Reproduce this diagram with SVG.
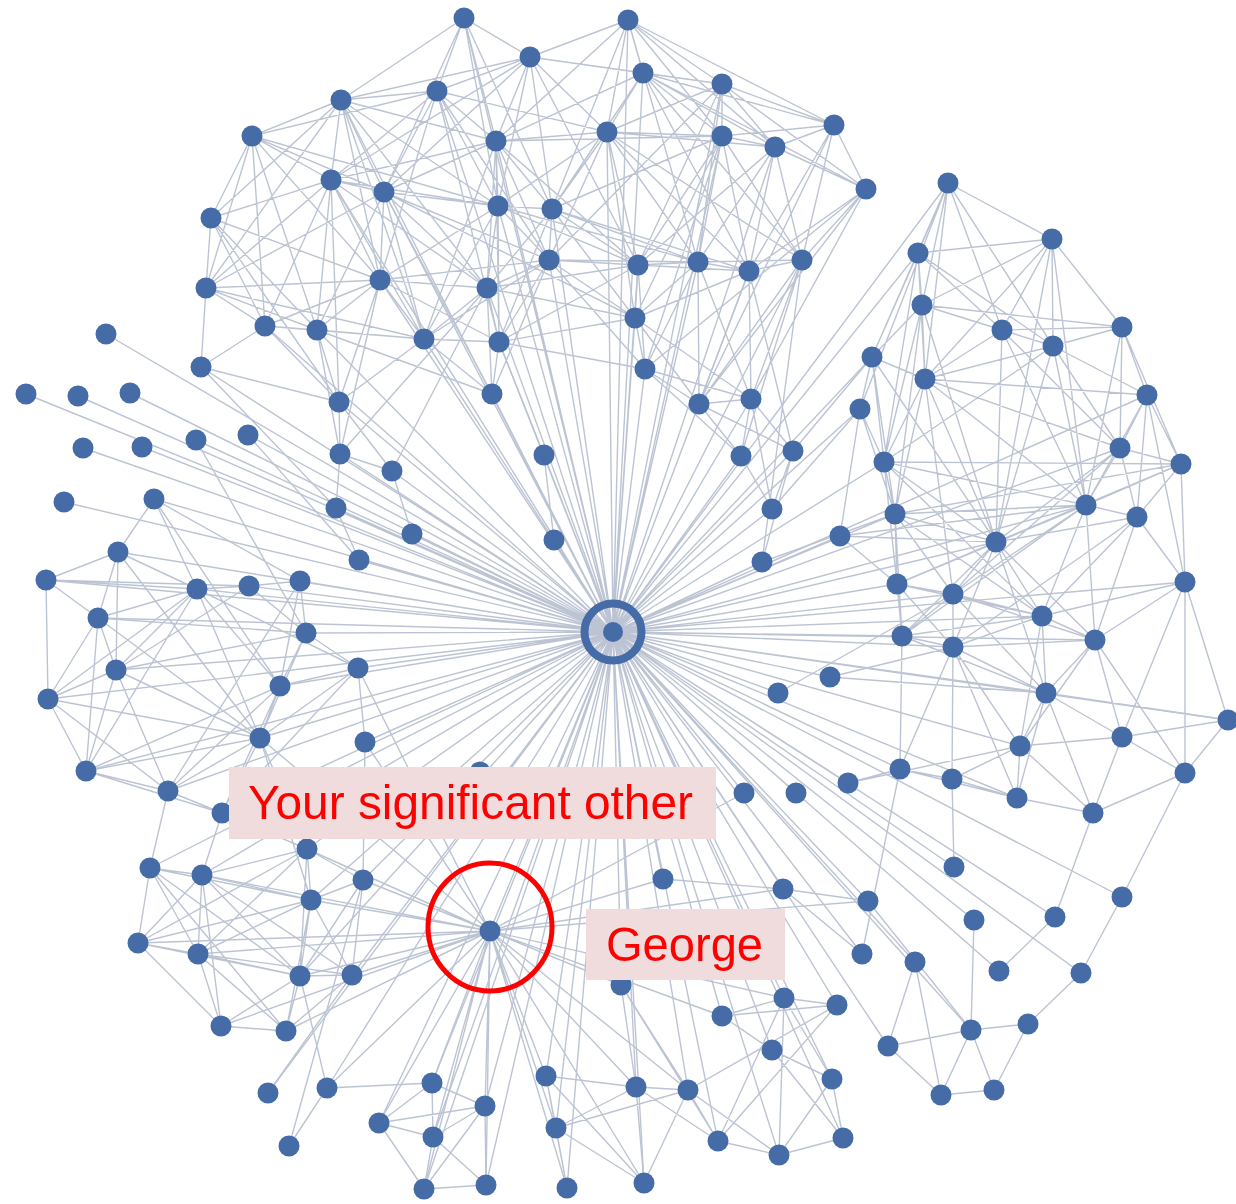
<svg xmlns="http://www.w3.org/2000/svg" width="1236" height="1204" viewBox="0 0 1236 1204">
<style>
  .e{fill:none;stroke:#bcc4d3;stroke-width:1.4;stroke-linejoin:round}
  .n circle{fill:#466ca8}
  .lbl{fill:#f0dcdc}
  .t{font-family:"Liberation Sans",Arial,sans-serif;font-size:49px;fill:#ff0000}
</style>
<rect width="1236" height="1204" fill="#ffffff"/>
<g id="connectors">
  <!-- spokes from the central person -->
  <path class="e" d="M464 18L613 632L628 20M530 57L613 632L643 73M722 84L613 632L341 100M437 91L613 632L496 141M607 132L613 632L722 136M775 147L613 632L331 180M384 192L613 632L498 206M552 209L613 632L549 260M638 265L613 632L698 262M749 271L613 632L802 260M380 280L613 632L487 288M635 318L613 632L265 326M317 330L613 632L424 339M499 342L613 632L645 369M201 367L613 632L106 334M26 394L613 632L78 396M130 393L613 632L339 402M492 394L613 632L699 404M751 399L613 632L83 448M142 447L613 632L196 440M248 435L613 632L340 454M392 471L613 632L544 455M741 456L613 632L793 451M64 502L613 632L154 499M336 508L613 632L412 534M554 540L613 632L772 509M762 562L613 632L359 560M860 409L613 632L884 462M895 514L613 632L840 536M897 584L613 632L902 636M953 647L613 632L830 677M778 693L613 632L848 783M796 793L613 632L744 793M900 769L613 632L1046 693M1042 616L613 632L996 542M1228 720L613 632L1185 582M872 357L613 632L918 253M948 183L613 632L118 552M46 580L613 632L98 618M197 589L613 632L249 586M300 581L613 632L306 633M116 670L613 632L358 668M48 699L613 632L280 686M260 738L613 632L365 742M86 771L613 632L168 791M222 813L613 632L307 849M363 880L613 632L311 900M150 868L613 632L202 875M300 976L613 632L352 975M490 931L613 632L546 1076M556 1128L613 632L567 1188M621 985L613 632L636 1087M688 1090L613 632L644 1183M718 1141L613 632L779 1155M843 1138L613 632L832 1079M772 1050L613 632L722 1016M784 998L613 632L837 1005M663 879L613 632L783 889M868 901L613 632L862 954M915 962L613 632L974 920M999 971L613 632L954 867M1055 917L613 632L1122 897M1081 973L613 632L888 1046M971 1030L613 632L485 1106M432 1083L613 632L433 1137M486 1185L613 632L424 1189M327 1088L613 632L268 1093M379 1123L613 632L1147 395M1120 448L613 632L1086 505M953 594L613 632L1095 640M1020 746L613 632L1017 798"/>
  <!-- upper community -->
  <path class="e" d="M341 100L464 18L437 91M496 141L464 18L498 206M384 192L464 18L552 209M464 18L530 57M530 57L628 20L643 73M722 84L628 20L607 132M722 136L628 20L775 147M552 209L628 20L698 262M496 141L628 20L834 125M341 100L530 57L437 91M643 73L530 57L607 132M722 84L530 57L496 141M498 206L530 57L638 265M384 192L530 57L331 180M722 84L643 73L607 132M722 136L643 73L775 147M496 141L643 73L552 209M749 271L643 73L802 260M834 125L643 73L866 189M834 125L722 84L722 136M775 147L722 84L607 132M638 265L722 84L698 262M866 189L722 84L549 260M437 91L341 100L252 136M331 180L341 100L384 192M496 141L341 100L211 218M206 288L341 100L380 280M498 206L341 100L487 288M341 100L424 339M496 141L437 91L331 180M384 192L437 91L252 136M607 132L437 91L498 206M549 260L437 91L380 280M437 91L499 342M331 180L252 136L384 192M211 218L252 136L206 288M265 326L252 136L317 330M498 206L252 136L380 280M607 132L496 141L498 206M552 209L496 141L384 192M331 180L496 141L549 260M487 288L496 141L638 265M722 136L496 141L424 339M496 141L499 342M722 136L607 132L552 209M498 206L607 132L638 265M698 262L607 132L749 271M549 260L607 132L635 318M775 147L607 132L802 260M775 147L722 136L834 125M698 262L722 136L749 271M802 260L722 136L552 209M638 265L722 136L645 369M722 136L635 318M834 125L775 147L866 189M802 260L775 147L749 271M698 262L775 147L638 265M866 189L834 125L802 260M749 271L834 125L699 404M802 260L866 189L749 271M751 399L866 189L699 404M866 189L645 369M384 192L331 180L211 218M206 288L331 180L380 280M265 326L331 180L317 330M498 206L331 180L487 288M424 339L331 180L339 402M498 206L384 192L380 280M487 288L384 192L424 339M317 330L384 192L549 260M635 318L384 192L492 394M384 192L206 288M552 209L498 206L549 260M487 288L498 206L380 280M638 265L498 206L499 342M424 339L498 206L698 262M549 260L552 209L638 265M698 262L552 209L487 288M499 342L552 209L635 318M552 209L749 271M206 288L211 218L265 326M380 280L211 218L317 330M211 218L339 402M638 265L549 260L698 262M487 288L549 260L380 280M499 342L549 260L635 318M645 369L549 260L424 339M549 260L492 394M698 262L638 265L749 271M635 318L638 265L645 369M499 342L638 265L487 288M749 271L698 262L802 260M635 318L698 262L645 369M699 404L698 262L751 399M802 260L749 271L699 404M751 399L749 271L635 318M749 271L793 451M751 399L802 260L699 404M802 260L741 456M265 326L206 288L317 330M380 280L206 288L201 367M206 288L424 339M487 288L380 280L424 339M317 330L380 280L265 326M339 402L380 280L499 342M380 280L340 454M499 342L487 288L424 339M635 318L487 288L492 394M340 454L487 288L392 471M645 369L635 318L699 404M499 342L635 318L751 399M317 330L265 326L201 367M339 402L265 326L424 339M424 339L317 330L339 402M340 454L317 330L492 394M499 342L424 339L492 394M424 339L339 402M492 394L499 342L645 369M499 342L544 455M699 404L645 369L751 399M645 369L741 456M339 402L201 367L336 508M340 454L339 402L392 471M751 399L699 404L741 456M699 404L793 451M741 456L751 399L793 451M751 399L772 509M772 509L793 451L762 562M741 456L772 509M336 508L359 560M392 471L412 534M340 454L392 471M544 455L554 540M336 508L340 454M793 451L872 357M772 509L860 409M762 562L895 514M802 260L762 562"/>
  <!-- right community -->
  <path class="e" d="M1052 239L948 183L918 253M922 305L948 183L872 357M1002 330L948 183L1053 346M925 379L948 183L860 409M918 253L1052 239L922 305M1002 330L1052 239L1053 346M1122 327L1052 239L925 379M1086 505L1052 239L996 542M922 305L918 253L872 357M925 379L918 253L1002 330M884 462L918 253L1053 346M925 379L922 305L872 357M1002 330L922 305L1053 346M1122 327L922 305L884 462M895 514L922 305L996 542M1053 346L1002 330L1122 327M925 379L1002 330L1086 505M1120 448L1002 330L996 542M1122 327L1053 346L1147 395M1120 448L1053 346L1086 505M925 379L1053 346L884 462M1053 346L996 542M1147 395L1122 327L1120 448M1181 464L1122 327L1086 505M925 379L872 357L860 409M884 462L872 357L895 514M872 357L996 542M884 462L925 379L895 514M996 542L925 379L1086 505M1120 448L925 379L1147 395M925 379L953 594M1120 448L1147 395L1181 464M1086 505L1147 395L1137 517M1147 395L1185 582M884 462L860 409L840 536M860 409L895 514M1181 464L1120 448L1086 505M1137 517L1120 448L996 542M1120 448L953 594M895 514L884 462L996 542M1086 505L884 462L897 584M884 462L1042 616M1086 505L1181 464L1137 517M1185 582L1181 464L996 542M895 514L1181 464L884 462M1137 517L1086 505L996 542M953 594L1086 505L1042 616M1095 640L1086 505L897 584M902 636L1086 505L895 514M1185 582L1137 517L1042 616M1095 640L1137 517L996 542M1137 517L953 647M897 584L895 514L996 542M953 594L895 514L902 636M895 514L1042 616M897 584L840 536L996 542M840 536L1086 505M953 594L996 542L1042 616M1095 640L996 542L897 584M902 636L996 542L953 647M996 542L1046 693M1095 640L1185 582L1042 616M1122 737L1185 582L1228 720M1185 582L1185 773M953 594L897 584L902 636M953 647L897 584L1042 616M1042 616L953 594L953 647M1095 640L953 594L902 636M953 594L1046 693M1095 640L1042 616L953 647M1046 693L1042 616L1020 746M1042 616L902 636M1046 693L1095 640L1122 737M1020 746L1095 640L953 647M1095 640L1185 773M953 647L902 636L900 769M902 636L1046 693M1046 693L953 647L952 779M1020 746L953 647L900 769M953 647L1017 798M1122 737L1046 693L1020 746M1017 798L1046 693L1093 813M1046 693L1228 720M1228 720L1122 737M1228 720L1185 773M1185 773L1122 737L1093 813M1122 737L1020 746M1017 798L1020 746L952 779M1020 746L1093 813M900 769L952 779L1017 798M900 769L1017 798M1017 798L1093 813M1185 773L1093 813M830 677L953 647M830 677L1046 693M778 693L953 594M848 783L900 769M848 783L1020 746M1093 813L1055 917M1185 773L1122 897M900 769L862 954M952 779L954 867"/>
  <!-- left community -->
  <path class="e" d="M46 580L118 552L98 618M197 589L118 552L116 670M118 552L260 738M98 618L46 580L197 589M48 699L46 580L249 586M116 670L98 618L48 699M86 771L98 618L197 589M306 633L98 618L260 738M249 586L197 589L116 670M280 686L197 589L86 771M358 668L197 589L260 738M197 589L48 699M300 581L249 586L116 670M249 586L306 633M306 633L300 581L280 686M300 581L168 791M280 686L306 633L260 738M358 668L306 633L116 670M168 791L116 670L48 699M86 771L116 670L260 738M365 742L358 668L260 738M280 686L358 668L222 813M86 771L48 699L168 791M48 699L260 738M260 738L280 686L222 813M168 791L280 686L86 771M222 813L260 738L168 791M86 771L260 738L307 849M168 791L86 771L222 813M168 791L222 813M154 499L118 552M154 499L197 589M154 499L280 686M154 499L300 581M248 435L359 560M196 440L306 633"/>
  <!-- lower-left community -->
  <path class="e" d="M202 875L150 868L138 943M198 954L150 868L300 976M311 900L150 868L286 1031M311 900L202 875L138 943M198 954L202 875L300 976M307 849L202 875L352 975M202 875L221 1026M363 880L307 849L311 900M198 954L307 849L300 976M307 849L138 943M311 900L363 880L300 976M363 880L352 975M300 976L311 900L352 975M198 954L311 900L286 1031M311 900L138 943M198 954L138 943L221 1026M138 943L300 976M300 976L198 954L221 1026M286 1031L198 954L352 975M352 975L300 976L286 1031M300 976L221 1026M352 975L286 1031L221 1026M222 813L307 849M222 813L202 875M168 791L150 868M260 738L311 900M365 742L363 880"/>
  <!-- George's links -->
  <path class="e" d="M307 849L490 931L202 875M138 943L490 931L311 900M352 975L490 931L300 976M363 880L490 931L198 954M432 1083L490 931L485 1106M433 1137L490 931L424 1189M486 1185L490 931L379 1123M546 1076L490 931L556 1128M567 1188L490 931L621 985M636 1087L490 931L688 1090M644 1183L490 931L722 1016M784 998L490 931L663 879M783 889L490 931L868 901M744 793L490 931L286 1031M221 1026L490 931L327 1088M358 668L490 931L365 742M260 738L490 931"/>
  <!-- lower communities -->
  <path class="e" d="M268 1093L352 975M327 1088L432 1083M327 1088L289 1146M289 1146L363 880M327 1088L300 976M432 1083L379 1123L433 1137M485 1106L379 1123L424 1189M433 1137L432 1083L485 1106M486 1185L433 1137L424 1189M433 1137L485 1106M486 1185L485 1106L424 1189L486 1185M556 1128L546 1076L567 1188M636 1087L546 1076L644 1183M636 1087L556 1128L688 1090M567 1188L556 1128L644 1183M688 1090L636 1087L644 1183M621 985L636 1087L718 1141M718 1141L688 1090L837 1005M779 1155L688 1090L644 1183M779 1155L718 1141L837 1005M718 1141L784 998M843 1138L779 1155L832 1079M779 1155L784 998M832 1079L843 1138L772 1050M772 1050L832 1079L784 998M784 998L722 1016L837 1005M722 1016L772 1050M784 998L837 1005M688 1090L621 985L718 1141M868 901L971 1030M915 962L888 1046M915 962L941 1095M974 920L971 1030M1055 917L999 971M1081 973L1028 1024L994 1090M971 1030L1028 1024M971 1030L941 1095M888 1046L941 1095M888 1046L971 1030M971 1030L994 1090M941 1095L994 1090M1122 897L1081 973M783 889L862 954M663 879L783 889M783 889L868 901"/>
</g>
<g id="hub">
  <circle cx="613" cy="632" r="28.5" fill="none" stroke="#466ca8" stroke-width="8"/>
  <circle cx="613" cy="632" r="10" fill="#466ca8"/>
</g>
<g id="nodes">
<g id="n1" class="n"><circle cx="464" cy="18" r="10.5"/></g>
<g id="n2" class="n"><circle cx="628" cy="20" r="10.5"/></g>
<g id="n3" class="n"><circle cx="530" cy="57" r="10.5"/></g>
<g id="n4" class="n"><circle cx="643" cy="73" r="10.5"/></g>
<g id="n5" class="n"><circle cx="722" cy="84" r="10.5"/></g>
<g id="n6" class="n"><circle cx="341" cy="100" r="10.5"/></g>
<g id="n7" class="n"><circle cx="437" cy="91" r="10.5"/></g>
<g id="n8" class="n"><circle cx="252" cy="136" r="10.5"/></g>
<g id="n9" class="n"><circle cx="496" cy="141" r="10.5"/></g>
<g id="n10" class="n"><circle cx="607" cy="132" r="10.5"/></g>
<g id="n11" class="n"><circle cx="722" cy="136" r="10.5"/></g>
<g id="n12" class="n"><circle cx="775" cy="147" r="10.5"/></g>
<g id="n13" class="n"><circle cx="834" cy="125" r="10.5"/></g>
<g id="n14" class="n"><circle cx="866" cy="189" r="10.5"/></g>
<g id="n15" class="n"><circle cx="331" cy="180" r="10.5"/></g>
<g id="n16" class="n"><circle cx="384" cy="192" r="10.5"/></g>
<g id="n17" class="n"><circle cx="498" cy="206" r="10.5"/></g>
<g id="n18" class="n"><circle cx="552" cy="209" r="10.5"/></g>
<g id="n19" class="n"><circle cx="211" cy="218" r="10.5"/></g>
<g id="n20" class="n"><circle cx="549" cy="260" r="10.5"/></g>
<g id="n21" class="n"><circle cx="638" cy="265" r="10.5"/></g>
<g id="n22" class="n"><circle cx="698" cy="262" r="10.5"/></g>
<g id="n23" class="n"><circle cx="749" cy="271" r="10.5"/></g>
<g id="n24" class="n"><circle cx="802" cy="260" r="10.5"/></g>
<g id="n25" class="n"><circle cx="206" cy="288" r="10.5"/></g>
<g id="n26" class="n"><circle cx="380" cy="280" r="10.5"/></g>
<g id="n27" class="n"><circle cx="487" cy="288" r="10.5"/></g>
<g id="n28" class="n"><circle cx="635" cy="318" r="10.5"/></g>
<g id="n29" class="n"><circle cx="265" cy="326" r="10.5"/></g>
<g id="n30" class="n"><circle cx="317" cy="330" r="10.5"/></g>
<g id="n31" class="n"><circle cx="424" cy="339" r="10.5"/></g>
<g id="n32" class="n"><circle cx="499" cy="342" r="10.5"/></g>
<g id="n33" class="n"><circle cx="645" cy="369" r="10.5"/></g>
<g id="n34" class="n"><circle cx="201" cy="367" r="10.5"/></g>
<g id="n35" class="n"><circle cx="106" cy="334" r="10.5"/></g>
<g id="n36" class="n"><circle cx="26" cy="394" r="10.5"/></g>
<g id="n37" class="n"><circle cx="78" cy="396" r="10.5"/></g>
<g id="n38" class="n"><circle cx="130" cy="393" r="10.5"/></g>
<g id="n39" class="n"><circle cx="339" cy="402" r="10.5"/></g>
<g id="n40" class="n"><circle cx="492" cy="394" r="10.5"/></g>
<g id="n41" class="n"><circle cx="699" cy="404" r="10.5"/></g>
<g id="n42" class="n"><circle cx="751" cy="399" r="10.5"/></g>
<g id="n43" class="n"><circle cx="83" cy="448" r="10.5"/></g>
<g id="n44" class="n"><circle cx="142" cy="447" r="10.5"/></g>
<g id="n45" class="n"><circle cx="196" cy="440" r="10.5"/></g>
<g id="n46" class="n"><circle cx="248" cy="435" r="10.5"/></g>
<g id="n47" class="n"><circle cx="340" cy="454" r="10.5"/></g>
<g id="n48" class="n"><circle cx="392" cy="471" r="10.5"/></g>
<g id="n49" class="n"><circle cx="544" cy="455" r="10.5"/></g>
<g id="n50" class="n"><circle cx="741" cy="456" r="10.5"/></g>
<g id="n51" class="n"><circle cx="793" cy="451" r="10.5"/></g>
<g id="n52" class="n"><circle cx="64" cy="502" r="10.5"/></g>
<g id="n53" class="n"><circle cx="154" cy="499" r="10.5"/></g>
<g id="n54" class="n"><circle cx="336" cy="508" r="10.5"/></g>
<g id="n55" class="n"><circle cx="412" cy="534" r="10.5"/></g>
<g id="n56" class="n"><circle cx="554" cy="540" r="10.5"/></g>
<g id="n57" class="n"><circle cx="772" cy="509" r="10.5"/></g>
<g id="n58" class="n"><circle cx="762" cy="562" r="10.5"/></g>
<g id="n59" class="n"><circle cx="359" cy="560" r="10.5"/></g>
<g id="n60" class="n"><circle cx="948" cy="183" r="10.5"/></g>
<g id="n61" class="n"><circle cx="1052" cy="239" r="10.5"/></g>
<g id="n62" class="n"><circle cx="918" cy="253" r="10.5"/></g>
<g id="n63" class="n"><circle cx="922" cy="305" r="10.5"/></g>
<g id="n64" class="n"><circle cx="1002" cy="330" r="10.5"/></g>
<g id="n65" class="n"><circle cx="1053" cy="346" r="10.5"/></g>
<g id="n66" class="n"><circle cx="1122" cy="327" r="10.5"/></g>
<g id="n67" class="n"><circle cx="872" cy="357" r="10.5"/></g>
<g id="n68" class="n"><circle cx="925" cy="379" r="10.5"/></g>
<g id="n69" class="n"><circle cx="1147" cy="395" r="10.5"/></g>
<g id="n70" class="n"><circle cx="860" cy="409" r="10.5"/></g>
<g id="n71" class="n"><circle cx="1120" cy="448" r="10.5"/></g>
<g id="n72" class="n"><circle cx="884" cy="462" r="10.5"/></g>
<g id="n73" class="n"><circle cx="1181" cy="464" r="10.5"/></g>
<g id="n74" class="n"><circle cx="1086" cy="505" r="10.5"/></g>
<g id="n75" class="n"><circle cx="1137" cy="517" r="10.5"/></g>
<g id="n76" class="n"><circle cx="895" cy="514" r="10.5"/></g>
<g id="n77" class="n"><circle cx="840" cy="536" r="10.5"/></g>
<g id="n78" class="n"><circle cx="996" cy="542" r="10.5"/></g>
<g id="n79" class="n"><circle cx="1185" cy="582" r="10.5"/></g>
<g id="n80" class="n"><circle cx="897" cy="584" r="10.5"/></g>
<g id="n81" class="n"><circle cx="953" cy="594" r="10.5"/></g>
<g id="n82" class="n"><circle cx="1042" cy="616" r="10.5"/></g>
<g id="n83" class="n"><circle cx="1095" cy="640" r="10.5"/></g>
<g id="n84" class="n"><circle cx="902" cy="636" r="10.5"/></g>
<g id="n85" class="n"><circle cx="953" cy="647" r="10.5"/></g>
<g id="n86" class="n"><circle cx="1046" cy="693" r="10.5"/></g>
<g id="n87" class="n"><circle cx="1228" cy="720" r="10.5"/></g>
<g id="n88" class="n"><circle cx="1122" cy="737" r="10.5"/></g>
<g id="n89" class="n"><circle cx="1020" cy="746" r="10.5"/></g>
<g id="n90" class="n"><circle cx="900" cy="769" r="10.5"/></g>
<g id="n91" class="n"><circle cx="952" cy="779" r="10.5"/></g>
<g id="n92" class="n"><circle cx="1017" cy="798" r="10.5"/></g>
<g id="n93" class="n"><circle cx="1185" cy="773" r="10.5"/></g>
<g id="n94" class="n"><circle cx="1093" cy="813" r="10.5"/></g>
<g id="n95" class="n"><circle cx="830" cy="677" r="10.5"/></g>
<g id="n96" class="n"><circle cx="778" cy="693" r="10.5"/></g>
<g id="n97" class="n"><circle cx="848" cy="783" r="10.5"/></g>
<g id="n98" class="n"><circle cx="796" cy="793" r="10.5"/></g>
<g id="n99" class="n"><circle cx="744" cy="793" r="10.5"/></g>
<g id="n100" class="n"><circle cx="118" cy="552" r="10.5"/></g>
<g id="n101" class="n"><circle cx="46" cy="580" r="10.5"/></g>
<g id="n102" class="n"><circle cx="98" cy="618" r="10.5"/></g>
<g id="n103" class="n"><circle cx="197" cy="589" r="10.5"/></g>
<g id="n104" class="n"><circle cx="249" cy="586" r="10.5"/></g>
<g id="n105" class="n"><circle cx="300" cy="581" r="10.5"/></g>
<g id="n106" class="n"><circle cx="306" cy="633" r="10.5"/></g>
<g id="n107" class="n"><circle cx="116" cy="670" r="10.5"/></g>
<g id="n108" class="n"><circle cx="358" cy="668" r="10.5"/></g>
<g id="n109" class="n"><circle cx="48" cy="699" r="10.5"/></g>
<g id="n110" class="n"><circle cx="280" cy="686" r="10.5"/></g>
<g id="n111" class="n"><circle cx="260" cy="738" r="10.5"/></g>
<g id="n112" class="n"><circle cx="365" cy="742" r="10.5"/></g>
<g id="n113" class="n"><circle cx="86" cy="771" r="10.5"/></g>
<g id="n114" class="n"><circle cx="168" cy="791" r="10.5"/></g>
<g id="n115" class="n"><circle cx="222" cy="813" r="10.5"/></g>
<g id="n116" class="n"><circle cx="307" cy="849" r="10.5"/></g>
<g id="n117" class="n"><circle cx="150" cy="868" r="10.5"/></g>
<g id="n118" class="n"><circle cx="202" cy="875" r="10.5"/></g>
<g id="n119" class="n"><circle cx="363" cy="880" r="10.5"/></g>
<g id="n120" class="n"><circle cx="311" cy="900" r="10.5"/></g>
<g id="n121" class="n"><circle cx="138" cy="943" r="10.5"/></g>
<g id="n122" class="n"><circle cx="198" cy="954" r="10.5"/></g>
<g id="n123" class="n"><circle cx="300" cy="976" r="10.5"/></g>
<g id="n124" class="n"><circle cx="352" cy="975" r="10.5"/></g>
<g id="n125" class="n"><circle cx="221" cy="1026" r="10.5"/></g>
<g id="n126" class="n"><circle cx="286" cy="1031" r="10.5"/></g>
<g id="n127" class="n"><circle cx="268" cy="1093" r="10.5"/></g>
<g id="n128" class="n"><circle cx="327" cy="1088" r="10.5"/></g>
<g id="n129" class="n"><circle cx="289" cy="1146" r="10.5"/></g>
<g id="n130" class="n"><circle cx="432" cy="1083" r="10.5"/></g>
<g id="n131" class="n"><circle cx="379" cy="1123" r="10.5"/></g>
<g id="n132" class="n"><circle cx="485" cy="1106" r="10.5"/></g>
<g id="n133" class="n"><circle cx="433" cy="1137" r="10.5"/></g>
<g id="n134" class="n"><circle cx="424" cy="1189" r="10.5"/></g>
<g id="n135" class="n"><circle cx="486" cy="1185" r="10.5"/></g>
<g id="n136" class="n"><circle cx="546" cy="1076" r="10.5"/></g>
<g id="n137" class="n"><circle cx="556" cy="1128" r="10.5"/></g>
<g id="n138" class="n"><circle cx="567" cy="1188" r="10.5"/></g>
<g id="n139" class="n"><circle cx="621" cy="985" r="10.5"/></g>
<g id="n140" class="n"><circle cx="636" cy="1087" r="10.5"/></g>
<g id="n141" class="n"><circle cx="688" cy="1090" r="10.5"/></g>
<g id="n142" class="n"><circle cx="644" cy="1183" r="10.5"/></g>
<g id="n143" class="n"><circle cx="718" cy="1141" r="10.5"/></g>
<g id="n144" class="n"><circle cx="779" cy="1155" r="10.5"/></g>
<g id="n145" class="n"><circle cx="843" cy="1138" r="10.5"/></g>
<g id="n146" class="n"><circle cx="832" cy="1079" r="10.5"/></g>
<g id="n147" class="n"><circle cx="772" cy="1050" r="10.5"/></g>
<g id="n148" class="n"><circle cx="722" cy="1016" r="10.5"/></g>
<g id="n149" class="n"><circle cx="784" cy="998" r="10.5"/></g>
<g id="n150" class="n"><circle cx="837" cy="1005" r="10.5"/></g>
<g id="n151" class="n"><circle cx="663" cy="879" r="10.5"/></g>
<g id="n152" class="n"><circle cx="783" cy="889" r="10.5"/></g>
<g id="n153" class="n"><circle cx="868" cy="901" r="10.5"/></g>
<g id="n154" class="n"><circle cx="862" cy="954" r="10.5"/></g>
<g id="n155" class="n"><circle cx="915" cy="962" r="10.5"/></g>
<g id="n156" class="n"><circle cx="974" cy="920" r="10.5"/></g>
<g id="n157" class="n"><circle cx="999" cy="971" r="10.5"/></g>
<g id="n158" class="n"><circle cx="954" cy="867" r="10.5"/></g>
<g id="n159" class="n"><circle cx="1055" cy="917" r="10.5"/></g>
<g id="n160" class="n"><circle cx="1122" cy="897" r="10.5"/></g>
<g id="n161" class="n"><circle cx="1081" cy="973" r="10.5"/></g>
<g id="n162" class="n"><circle cx="888" cy="1046" r="10.5"/></g>
<g id="n163" class="n"><circle cx="971" cy="1030" r="10.5"/></g>
<g id="n164" class="n"><circle cx="1028" cy="1024" r="10.5"/></g>
<g id="n165" class="n"><circle cx="941" cy="1095" r="10.5"/></g>
<g id="n166" class="n"><circle cx="994" cy="1090" r="10.5"/></g>
<g id="n167" class="n"><circle cx="480" cy="772" r="10.5"/></g>
</g>
<g id="george" class="n">
  <circle cx="490" cy="931" r="10.5"/>
  <ellipse cx="490" cy="927" rx="62" ry="64" fill="none" stroke="#ff0000" stroke-width="5"/>
</g>
<g id="label-significant-other">
  <rect class="lbl" x="229" y="767" width="487" height="72"/>
  <text class="t" x="248" y="819" textLength="445" lengthAdjust="spacingAndGlyphs">Your significant other</text>
</g>
<g id="label-george">
  <rect class="lbl" x="586" y="909" width="199" height="71"/>
  <text class="t" x="606" y="961" textLength="157" lengthAdjust="spacingAndGlyphs">George</text>
</g>
</svg>
